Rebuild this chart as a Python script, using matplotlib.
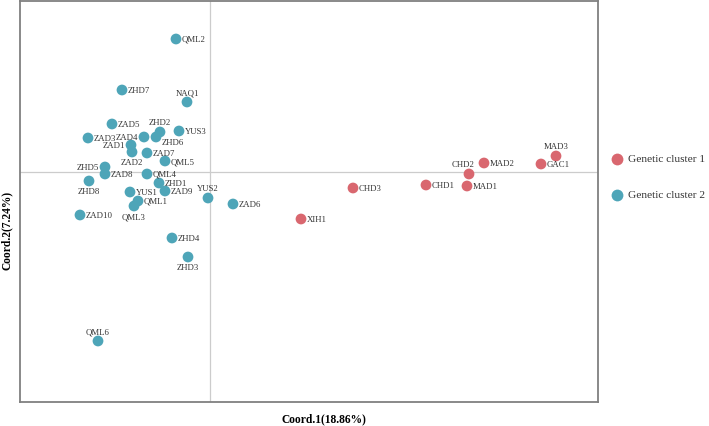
import matplotlib
matplotlib.use("Agg")
import matplotlib.pyplot as plt

plt.rcParams['font.family'] = ['Liberation Serif', 'DejaVu Serif']

# Cluster 2 (teal) samples
c2_names = ["QML2", "ZHD7", "NAQ1", "ZAD5", "ZHD2", "ZHD6", "YUS3", "ZAD3", "ZAD4",
            "ZAD1", "ZAD2", "ZAD7", "QML5", "ZHD5", "ZAD8", "QML4", "ZHD8", "ZHD1",
            "ZAD9", "YUS1", "QML1", "QML3", "YUS2", "ZAD6", "ZAD10", "ZHD4", "ZHD3", "QML6"]
c2_x = [-0.34, -0.88, -0.23, -0.98, -0.50, -0.54, -0.31, -1.22, -0.66,
        -0.79, -0.78, -0.63, -0.45, -1.05, -1.05, -0.63, -1.21, -0.51,
        -0.45, -0.80, -0.72, -0.76, -0.02, 0.23, -1.30, -0.38, -0.22, -1.12]
c2_y = [1.33, 0.82, 0.70, 0.48, 0.40, 0.35, 0.41, 0.34, 0.35,
        0.27, 0.20, 0.19, 0.11, 0.05, -0.02, -0.02, -0.09, -0.11,
        -0.19, -0.20, -0.29, -0.34, -0.26, -0.32, -0.43, -0.66, -0.85, -1.69]

# Cluster 1 (red) samples
c1_names = ["XIH1", "CHD3", "CHD1", "MAD1", "CHD2", "MAD2", "GAC1", "MAD3"]
c1_x = [0.91, 1.43, 2.16, 2.57, 2.59, 2.74, 3.31, 3.46]
c1_y = [-0.47, -0.16, -0.13, -0.14, -0.02, 0.09, 0.08, 0.16]

legend_labels = ["Genetic cluster 1", "Genetic cluster 2"]
xlabel = "Coord.1(18.86%)"
ylabel = "Coord.2(7.24%)"

# label placement (layout only)
place = {"NAQ1": "a", "ZHD2": "a", "ZHD6": "rb", "ZAD4": "l", "ZAD1": "l", "ZAD2": "b",
         "ZHD5": "l", "ZHD8": "b", "QML3": "b", "YUS2": "a", "ZHD3": "b", "QML6": "a",
         "CHD2": "al", "MAD3": "a"}
offsets = {"r": (4, 0, "left", "center"), "l": (-4, 0, "right", "center"),
           "a": (0, 7, "center", "center"), "b": (0, -7.5, "center", "center"),
           "rb": (4, -3.5, "left", "center"), "al": (-4, 7, "center", "center")}

teal = "#4ea5b8"
red = "#d9676f"

fig = plt.figure(figsize=(7.09, 4.27), dpi=100)
ax = fig.add_axes([20/709, (427-403)/427, 578/709, 401/427])
ax.set_xlim(-1.90, 3.88)
ax.set_ylim(-2.30, 1.71)
ax.axhline(0, color="#cccccc", lw=0.9, zorder=0)
ax.axvline(0, color="#cccccc", lw=0.9, zorder=0)

ax.scatter(c1_x, c1_y, s=60, color=red, edgecolors="none", zorder=3)
ax.scatter(c2_x, c2_y, s=60, color=teal, edgecolors="none", zorder=3)

for names, xs, ys in [(c2_names, c2_x, c2_y), (c1_names, c1_x, c1_y)]:
    for n, x, y in zip(names, xs, ys):
        dx, dy, ha, va = offsets[place.get(n, "r")]
        ax.annotate(n, (x, y), xytext=(dx, dy), textcoords="offset points",
                    ha=ha, va=va, fontsize=6.3, color="#333333", zorder=4)

ax.set_xticks([])
ax.set_yticks([])
for sp in ax.spines.values():
    sp.set_color("#808080")
    sp.set_linewidth(1.3)

fig.text(324/709, 1 - 419/427, xlabel, ha="center", va="center",
         fontsize=8.3, fontweight="bold")
fig.text(7/709, 1 - 230/427, ylabel, ha="center", va="center",
         fontsize=8.3, fontweight="bold", rotation=90)

# legend
for i, (lab, col) in enumerate(zip(legend_labels, [red, teal])):
    yy = 1 - (160 + 36*i)/427
    fig.lines.append(plt.Line2D([617/709], [yy], marker="o", markersize=8.5,
                                color=col, markeredgewidth=0, transform=fig.transFigure))
    fig.text(628/709, yy, lab, ha="left", va="center", fontsize=8.2, color="#333333")

fig.savefig("out.png", dpi=100, facecolor="white")
